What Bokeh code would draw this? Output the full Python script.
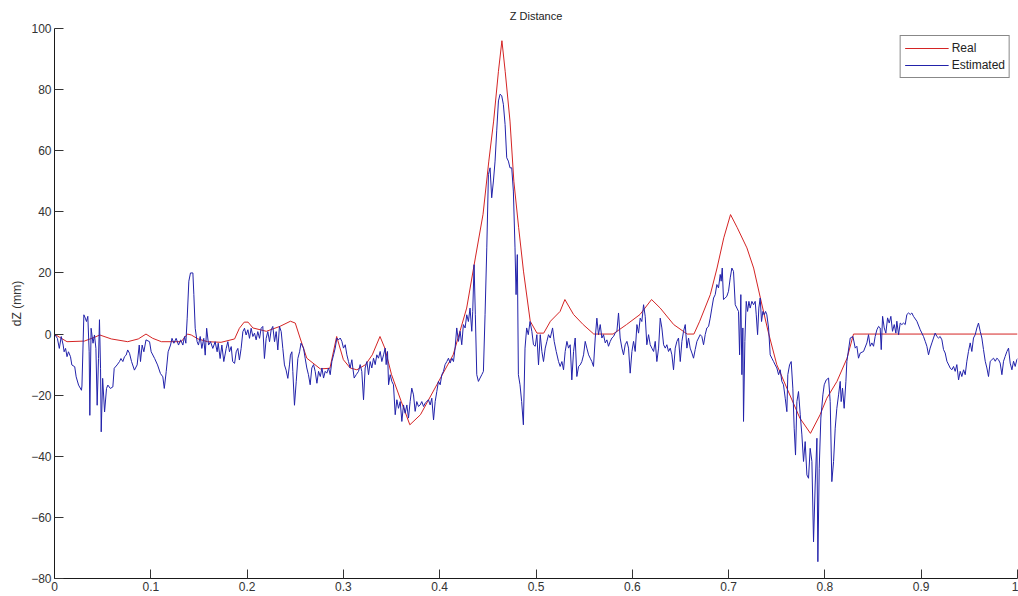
from bokeh.plotting import figure
from bokeh.models import Range1d, FixedTicker
from bokeh.embed import file_html
from bokeh.resources import INLINE

# Real (reference) trajectory, dZ in mm against normalised time
real_t = [0.0, 0.005, 0.013, 0.031, 0.042, 0.047, 0.059, 0.076, 0.087, 0.095, 0.102, 0.111,
          0.1315, 0.138, 0.142, 0.149, 0.159, 0.173, 0.187, 0.192, 0.197, 0.201, 0.206, 0.220,
          0.234, 0.245, 0.250, 0.255, 0.262, 0.276, 0.286, 0.293, 0.300, 0.307, 0.314, 0.323,
          0.330, 0.338, 0.343, 0.350, 0.360, 0.369, 0.380, 0.397, 0.414, 0.428, 0.437, 0.445,
          0.451, 0.456, 0.461, 0.4646, 0.468, 0.473, 0.477, 0.482, 0.487, 0.494, 0.501, 0.508,
          0.515, 0.525, 0.530, 0.539, 0.549, 0.560, 0.580, 0.594, 0.608, 0.620, 0.629, 0.643,
          0.657, 0.664, 0.670, 0.681, 0.688, 0.695, 0.702, 0.709, 0.719, 0.726, 0.733, 0.741,
          0.750, 0.7605, 0.774, 0.785, 0.795, 0.802, 0.8125, 0.823, 0.8297, 1.0]
real_dz = [0.0, -1.0, -2.5, -2.3, -1.0, -0.3, -1.6, -2.5, -1.6, 0.0, -1.4, -2.5,
           -2.5, 0.0, -0.3, -1.6, -2.5, -2.7, -1.6, 1.9, 3.9, 3.9, 2.0, 0.9,
           2.5, 4.2, 3.6, -1.3, -7.9, -11.4, -11.2, -0.8, -8.4, -11.1, -11.7, -10.0,
           -6.8, -0.8, -4.6, -13.3, -22.0, -29.7, -26.4, -16.6, -6.8, 8.5, 24.9, 39.2,
           56.6, 69.7, 86.0, 96.0, 86.0, 69.7, 50.0, 34.8, 20.6, 4.2, 0.3, 0.3,
           4.2, 7.4, 11.3, 6.4, 3.1, 0.0, 0.0, 3.1, 6.4, 11.3, 8.5, 3.1,
           0.0, 0.0, 4.2, 12.9, 21.6, 31.5, 39.1, 34.8, 28.2, 21.6, 11.8, 0.9,
           -10.0, -17.7, -27.5, -32.5, -26.4, -21.0, -15.5, -7.9, 0.0, 0.0]

# Estimated trajectory
est_t = [0.0, 0.003, 0.005, 0.007, 0.009, 0.010, 0.0115, 0.013, 0.0145, 0.0166, 0.018, 0.021,
         0.0225, 0.025, 0.028, 0.0285, 0.0305, 0.032, 0.0332, 0.0346, 0.036, 0.0367, 0.038, 0.040,
         0.0415, 0.043, 0.0443, 0.0457, 0.0467, 0.0478, 0.0485, 0.050, 0.052, 0.054, 0.0554, 0.058,
         0.0606, 0.062, 0.065, 0.0675, 0.069, 0.071, 0.0727, 0.0744, 0.076, 0.0779, 0.080, 0.083,
         0.0858, 0.088, 0.0893, 0.091, 0.0928, 0.095, 0.0987, 0.1004, 0.104, 0.107, 0.110, 0.1125,
         0.114, 0.116, 0.118, 0.1205, 0.122, 0.124, 0.1263, 0.1288, 0.131, 0.1333, 0.135, 0.1364,
         0.1378, 0.1395, 0.1412, 0.1437, 0.1447, 0.1461, 0.1481, 0.1495, 0.1513, 0.153, 0.155, 0.1565,
         0.158, 0.160, 0.162, 0.1644, 0.1668, 0.1689, 0.170, 0.172, 0.1738, 0.1758, 0.1783, 0.180,
         0.1817, 0.1835, 0.185, 0.187, 0.1887, 0.1904, 0.192, 0.1938, 0.1956, 0.1973, 0.199, 0.2008,
         0.2025, 0.2042, 0.206, 0.2077, 0.2094, 0.2111, 0.2129, 0.2146, 0.2163, 0.218, 0.2198, 0.2215,
         0.2233, 0.225, 0.2267, 0.2285, 0.2302, 0.2319, 0.2336, 0.2354, 0.2371, 0.2388, 0.2405, 0.2423,
         0.244, 0.245, 0.2465, 0.2475, 0.2492, 0.251, 0.2527, 0.2545, 0.256, 0.2586, 0.2603, 0.262,
         0.2637, 0.2655, 0.2672, 0.269, 0.2707, 0.2725, 0.2742, 0.276, 0.2777, 0.2794, 0.2811, 0.2828,
         0.2846, 0.2863, 0.288, 0.2898, 0.2915, 0.2932, 0.2949, 0.2967, 0.2984, 0.3001, 0.3019, 0.3036,
         0.3053, 0.307, 0.3088, 0.3098, 0.3112, 0.3133, 0.3157, 0.3174, 0.3191, 0.3209, 0.3226, 0.3244,
         0.3261, 0.3278, 0.3295, 0.3313, 0.333, 0.3347, 0.3364, 0.3382, 0.3399, 0.3417, 0.3434, 0.3444,
         0.3458, 0.3469, 0.3486, 0.3503, 0.352, 0.3538, 0.3555, 0.3572, 0.359, 0.3607, 0.3624, 0.3641,
         0.3659, 0.3676, 0.3693, 0.371, 0.3728, 0.3745, 0.3762, 0.378, 0.3797, 0.3814, 0.3832, 0.3849,
         0.3866, 0.3883, 0.3901, 0.3918, 0.3936, 0.3953, 0.397, 0.3987, 0.4005, 0.4022, 0.4039, 0.4056,
         0.4074, 0.4091, 0.4108, 0.4126, 0.4143, 0.416, 0.4177, 0.4195, 0.4212, 0.4229, 0.4246, 0.4264,
         0.4281, 0.4298, 0.4315, 0.4333, 0.4343, 0.4357, 0.437, 0.4385, 0.4402, 0.4419, 0.4437, 0.4454,
         0.4471, 0.4489, 0.4506, 0.4523, 0.454, 0.4558, 0.4575, 0.4592, 0.461, 0.4627, 0.4644, 0.4661,
         0.4679, 0.4696, 0.4713, 0.473, 0.4748, 0.4765, 0.4782, 0.4793, 0.4806, 0.4817, 0.4834, 0.4851,
         0.4869, 0.4886, 0.4903, 0.492, 0.4938, 0.4957, 0.4974, 0.4992, 0.5009, 0.5026, 0.5044, 0.5061,
         0.5078, 0.5096, 0.5113, 0.513, 0.5148, 0.5172, 0.5189, 0.521, 0.5234, 0.5251, 0.5269, 0.5286,
         0.5303, 0.5321, 0.5338, 0.5355, 0.5372, 0.539, 0.5407, 0.5424, 0.5442, 0.5459, 0.5476, 0.5494,
         0.5511, 0.5528, 0.5546, 0.5563, 0.558, 0.5597, 0.5615, 0.5632, 0.5649, 0.5667, 0.5684, 0.5701,
         0.5719, 0.5736, 0.5753, 0.5771, 0.5788, 0.5805, 0.5822, 0.584, 0.5857, 0.5874, 0.5892, 0.5909,
         0.5926, 0.5944, 0.5961, 0.5978, 0.5996, 0.6013, 0.603, 0.6048, 0.6065, 0.6082, 0.6099, 0.6117,
         0.6134, 0.6151, 0.6169, 0.6186, 0.6203, 0.6221, 0.6238, 0.6255, 0.6273, 0.629, 0.6307, 0.6325,
         0.6342, 0.6359, 0.6376, 0.6394, 0.6411, 0.6428, 0.6446, 0.6463, 0.648, 0.6498, 0.6515, 0.6532,
         0.655, 0.6567, 0.6584, 0.6601, 0.6619, 0.6636, 0.6653, 0.6671, 0.6705, 0.6722, 0.674, 0.6757,
         0.6774, 0.6792, 0.6809, 0.6826, 0.6844, 0.6861, 0.6878, 0.6895, 0.6913, 0.6923, 0.6934, 0.6947,
         0.6965, 0.6982, 0.6999, 0.7017, 0.7034, 0.7051, 0.7069, 0.7086, 0.7103, 0.7114, 0.7127, 0.7138,
         0.7148, 0.7155, 0.7169, 0.7183, 0.7197, 0.7211, 0.7224, 0.7242, 0.7259, 0.7276, 0.7287, 0.7301,
         0.7314, 0.7328, 0.7342, 0.7356, 0.737, 0.7384, 0.7397, 0.7415, 0.7432, 0.7449, 0.7467, 0.7484,
         0.7501, 0.7519, 0.7536, 0.7553, 0.757, 0.7588, 0.7605, 0.7615, 0.7633, 0.765, 0.7667, 0.7681,
         0.7695, 0.7709, 0.7726, 0.7744, 0.7761, 0.7778, 0.7795, 0.7813, 0.783, 0.7847, 0.7865, 0.7882,
         0.7899, 0.7917, 0.7927, 0.7941, 0.7958, 0.7979, 0.7993, 0.8014, 0.8038, 0.8055, 0.8072, 0.809,
         0.8107, 0.8124, 0.8142, 0.8159, 0.8169, 0.8183, 0.82, 0.8218, 0.8228, 0.8263, 0.8291, 0.8315,
         0.8332, 0.8349, 0.8367, 0.8401, 0.8436, 0.8453, 0.847, 0.8488, 0.8505, 0.8522, 0.854, 0.8557,
         0.8574, 0.8585, 0.8599, 0.8616, 0.8633, 0.8651, 0.8668, 0.8685, 0.8702, 0.872, 0.8737, 0.8747,
         0.8765, 0.8782, 0.8799, 0.8817, 0.8834, 0.8851, 0.8869, 0.8886, 0.8903, 0.892, 0.8955, 0.899,
         0.9024, 0.9042, 0.9059, 0.9076, 0.9093, 0.9111, 0.9128, 0.9145, 0.9163, 0.918, 0.9197, 0.9215,
         0.9232, 0.9249, 0.9267, 0.9301, 0.9318, 0.9336, 0.9353, 0.937, 0.9388, 0.9405, 0.9422, 0.944,
         0.9457, 0.9474, 0.9491, 0.9509, 0.9526, 0.9543, 0.9561, 0.9578, 0.9595, 0.9613, 0.963, 0.9647,
         0.9665, 0.9682, 0.9699, 0.9717, 0.9734, 0.9751, 0.9769, 0.9786, 0.9803, 0.982, 0.9838, 0.9855,
         0.9872, 0.989, 0.9907, 0.9924, 0.9942, 0.9959, 0.9976, 0.9993, 1.0]
est_dz = [0.0, -1.4, -4.7, -0.8, -3.6, -5.8, -4.7, -7.4, -5.8, -7.4, -10.1, -10.7,
          -14.0, -16.7, -18.4, -17.0, 6.3, 5.2, 4.1, 5.8, -5.8, -26.6, 1.9, -3.0,
          -0.3, -4.7, -23.3, -8.0, 4.7, -11.2, -32.0, -14.5, -25.5, -17.8, -16.7, -17.8,
          -17.3, -11.2, -10.1, -9.0, -8.0, -9.0, -7.4, -6.9, -5.2, -6.3, -9.0, -11.8,
          -10.1, -3.6, -9.0, -3.6, -5.8, -1.9, -2.5, -5.8, -8.0, -10.1, -12.9, -14.0,
          -17.8, -12.3, -5.8, -3.6, -1.4, -3.0, -1.4, -3.6, -1.9, -3.6, -0.8, -3.0,
          5.2, 17.3, 20.0, 20.0, 12.9, 1.9, -2.5, -3.6, -0.8, -4.7, -1.4, -6.9,
          1.9, -3.6, -2.5, -4.7, -2.5, -5.8, -3.0, -8.0, -3.6, -9.0, -4.7, -2.5,
          -5.8, -4.1, -9.0, -9.6, -5.8, -4.7, -8.5, -4.7, 0.8, 1.9, -0.3, 1.4,
          -1.4, 1.9, -0.8, 0.3, -1.9, 0.8, -1.4, 1.9, 2.5, -8.0, -1.4, 0.8,
          -2.5, 1.4, 2.5, -2.5, 0.8, -5.2, 2.5, 0.8, -4.7, -10.1, -11.8, -14.5,
          -10.1, -6.9, -5.8, -12.3, -23.3, -15.6, -8.0, -5.8, -3.0, -4.6, -7.9, -11.1,
          -13.3, -16.6, -11.1, -10.0, -12.2, -16.1, -12.2, -13.9, -11.1, -14.4, -12.2, -12.8,
          -11.1, -13.3, -9.0, -6.8, -4.6, -1.3, -1.9, -1.3, -2.4, -4.6, -3.5, -6.8,
          -9.0, -11.1, -8.4, -11.1, -14.4, -13.3, -12.2, -10.0, -12.2, -21.5, -11.1, -9.0,
          -13.3, -9.0, -11.1, -7.9, -10.0, -6.8, -7.9, -5.7, -9.0, -6.8, -4.6, -10.0,
          -5.7, -16.6, -13.3, -15.5, -16.6, -26.4, -21.5, -24.3, -22.1, -28.6, -23.2, -25.9,
          -23.2, -27.5, -22.1, -17.7, -19.9, -25.3, -22.1, -23.7, -23.2, -22.1, -23.7, -22.6,
          -22.1, -21.5, -23.2, -21.0, -28.1, -22.1, -18.8, -15.5, -16.6, -13.3, -12.2, -10.0,
          -9.0, -7.9, -9.5, -7.9, -9.0, -4.6, 2.0, -2.4, 0.9, -3.5, 3.1, 2.0,
          6.3, 4.1, 8.5, 0.9, 7.4, 22.7, 6.3, -13.3, -15.5, -14.4, -13.3, -12.2,
          6.3, 28.2, 52.2, 54.4, 44.6, 50.1, 56.6, 66.5, 76.3, 78.5, 78.0, 75.2,
          68.6, 57.7, 56.6, 54.4, 54.4, 46.8, 28.2, 12.9, 26.0, -13.3, -16.6, -22.1,
          -29.7, -4.6, 2.0, -0.2, 4.1, 0.9, -3.5, -4.0, -0.2, -10.1, -0.2, -5.7,
          -9.0, -4.6, -2.4, -0.2, -1.3, 2.0, -2.4, -5.7, -9.0, -10.6, -9.0, -11.7,
          -5.7, -2.4, -4.6, -3.5, -15.0, -5.7, -1.3, -13.9, -10.6, -10.1, -9.0, -6.8,
          -2.4, -4.6, -6.8, -7.9, -9.0, -10.6, -1.3, 5.2, -0.2, 3.1, -1.3, -0.2,
          -2.9, -1.9, -4.0, -2.4, -1.3, -0.8, 0.3, 0.9, 6.9, -1.3, -4.6, -6.8,
          -3.5, -2.4, -4.6, -12.8, -5.7, -2.4, -5.7, 3.1, 0.3, 5.2, 4.1, 9.6,
          5.8, -3.5, -0.2, -3.5, -4.6, -5.7, -2.4, -9.0, -4.6, 5.2, 2.0, -3.5,
          -4.6, -3.5, -5.7, -4.6, -6.8, -11.7, -4.6, -2.4, -1.3, -9.0, -2.4, 0.9,
          3.1, -4.6, -1.3, -4.6, -6.2, -7.9, -5.1, -2.4, -0.2, -0.8, -3.5, -0.2,
          2.0, 2.5, 5.2, 8.5, 11.8, 12.9, 16.2, 15.1, 19.5, 17.3, 21.6, 11.3,
          11.8, 12.4, 14.0, 18.4, 21.6, 20.5, 9.6, 8.5, 7.4, -6.8, 12.9, -13.3,
          2.0, -28.6, -2.4, 10.7, 7.4, 10.7, 8.5, 10.7, 9.6, 10.7, 6.3, -0.2,
          8.5, 11.8, 4.1, 7.4, 6.3, 7.4, 6.3, 2.0, -6.8, -7.9, -9.0, -10.1,
          -11.1, -13.3, -11.7, -15.5, -16.6, -21.0, -25.4, -13.3, -10.1, -9.0, -17.7, -30.8,
          -39.6, -22.1, -18.8, -26.4, -33.0, -41.7, -35.2, -46.1, -47.2, -37.4, -41.7, -68.0,
          -49.4, -34.1, -74.5, -43.9, -27.5, -19.9, -16.6, -15.0, -14.4, -22.1, -48.3, -41.7,
          -30.8, -24.3, -19.9, -15.5, -22.1, -17.7, -24.3, -15.5, -9.0, -1.3, -0.8, -4.6,
          -4.0, -7.9, -6.2, -5.7, -2.9, -0.2, -4.0, -2.9, -4.0, -0.8, 1.4, 2.5,
          2.0, -5.1, 5.8, 2.0, 0.3, 5.3, 3.6, 5.8, 0.9, 3.1, 0.3, 4.2,
          -0.2, 3.6, 3.1, 3.6, 3.1, 6.4, 6.9, 6.4, 6.9, 5.8, 4.2, 1.4,
          -0.8, -2.4, -4.0, -6.8, -4.6, -2.9, -1.3, 0.3, -0.8, -1.3, -0.8, -1.9,
          -5.1, -6.2, -8.9, -11.1, -11.7, -10.6, -12.2, -10.0, -15.0, -12.2, -13.9, -11.7,
          -13.3, -8.9, -5.7, -2.9, -5.7, -1.3, -0.2, 2.0, 3.6, 0.9, -1.3, -5.1,
          -8.9, -11.1, -13.9, -8.9, -8.4, -7.9, -8.9, -7.9, -8.4, -9.5, -13.3, -8.9,
          -7.3, -5.7, -4.6, -9.5, -11.7, -8.9, -10.6, -8.4, -8.0]

x_ticks = [0.0, 0.1, 0.2, 0.3, 0.4, 0.5, 0.6, 0.7, 0.8, 0.9, 1.0]
x_tick_labels = ["0", "0.1", "0.2", "0.3", "0.4", "0.5", "0.6", "0.7", "0.8", "0.9", "1"]
y_ticks = [-80, -60, -40, -20, 0, 20, 40, 60, 80, 100]

FONT = "Liberation Sans"

p = figure(width=1018, height=596, output_backend="svg", toolbar_location=None,
           x_range=Range1d(0, 1), y_range=Range1d(-80, 100),
           min_border_left=54, min_border_right=1, min_border_top=28, min_border_bottom=18,
           title="Z Distance")

p.outline_line_color = None
p.background_fill_color = "white"
p.border_fill_color = "white"
p.xgrid.visible = False
p.ygrid.visible = False

p.title.align = "center"
p.title.text_font = FONT
p.title.text_font_size = "11px"
p.title.text_font_style = "normal"
p.title.text_color = "#222222"
p.title.standoff = 13

for ax in (p.xaxis[0], p.yaxis[0]):
    ax.axis_line_color = "#1a1a1a"
    ax.major_tick_line_color = "#333333"
    ax.major_tick_in = 9
    ax.major_tick_out = 0
    ax.minor_tick_line_color = None
    ax.major_label_text_font = FONT
    ax.major_label_text_font_size = "12px"
    ax.major_label_text_color = "#333333"

p.xaxis[0].ticker = FixedTicker(ticks=x_ticks)
p.xaxis[0].major_label_overrides = dict(zip(x_ticks, x_tick_labels))
p.xaxis[0].major_label_standoff = 3

p.yaxis[0].ticker = FixedTicker(ticks=y_ticks)
p.yaxis[0].major_label_standoff = 3
p.yaxis[0].axis_label = "dZ (mm)"
p.yaxis[0].axis_label_text_font = FONT
p.yaxis[0].axis_label_text_font_size = "12px"
p.yaxis[0].axis_label_text_font_style = "normal"
p.yaxis[0].axis_label_text_color = "#333333"
p.yaxis[0].axis_label_standoff = 4

p.line(real_t, real_dz, line_color="#d42424", line_width=1, legend_label="Real")
p.line(est_t, est_dz, line_color="#2222aa", line_width=1, legend_label="Estimated")

lg = p.legend[0]
lg.location = "top_right"
lg.margin = 7
lg.border_line_color = "#111111"
lg.border_line_width = 1
lg.background_fill_color = "white"
lg.background_fill_alpha = 1
lg.label_text_font = FONT
lg.label_text_font_size = "12px"
lg.label_text_color = "#222222"
lg.glyph_width = 44
lg.glyph_height = 16
lg.label_height = 16
lg.label_standoff = 3
lg.padding = 4
lg.spacing = 1

open("out.html", "w").write(file_html(p, INLINE))
